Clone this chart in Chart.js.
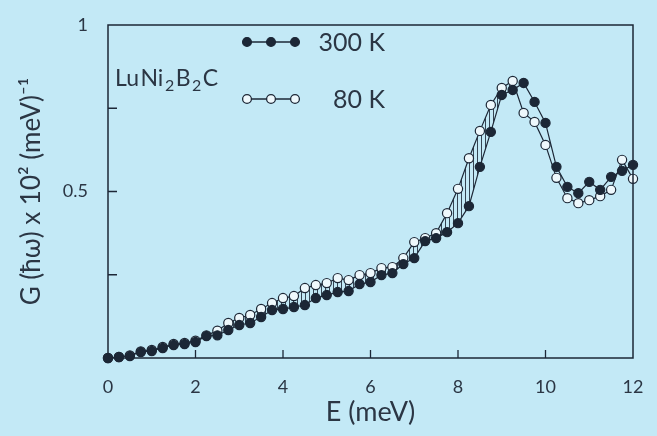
<!DOCTYPE html>
<html>
<head>
<meta charset="utf-8">
<script src="https://cdn.jsdelivr.net/npm/chart.js@4.4.1/dist/chart.umd.min.js"></script>
<style>
  html, body { margin: 0; padding: 0; background: #c3e9f6; }
  #wrap { width: 657px; height: 436px; position: relative; }
</style>
</head>
<body>
<div id="wrap"><canvas id="myChart" width="657" height="436"></canvas></div>
<script>
// E (meV)
const energy = [0, 0.25, 0.5, 0.75, 1, 1.25, 1.5, 1.75, 2, 2.25, 2.5, 2.75, 3, 3.25, 3.5, 3.75,
  4, 4.25, 4.5, 4.75, 5, 5.25, 5.5, 5.75, 6, 6.25, 6.5, 6.75, 7, 7.25, 7.5, 7.75,
  8, 8.25, 8.5, 8.75, 9, 9.25, 9.5, 9.75, 10, 10.25, 10.5, 10.75, 11, 11.25, 11.5, 11.75, 12];
// G(hw) x 10^2, 300 K (filled)
const g300 = [0.000, 0.003, 0.006, 0.018, 0.021, 0.030, 0.039, 0.042, 0.048, 0.066,
  0.068, 0.084, 0.099, 0.105, 0.123, 0.144, 0.147, 0.153, 0.159, 0.180,
  0.189, 0.198, 0.201, 0.222, 0.228, 0.249, 0.255, 0.282, 0.300, 0.351,
  0.360, 0.378, 0.405, 0.456, 0.574, 0.679, 0.790, 0.805, 0.826, 0.769,
  0.706, 0.574, 0.514, 0.495, 0.529, 0.505, 0.544, 0.562, 0.580];
// G(hw) x 10^2, 80 K (open)
const g80 = [0.000, 0.003, 0.008, 0.020, 0.024, 0.033, 0.042, 0.045, 0.052, 0.068,
  0.082, 0.105, 0.120, 0.129, 0.147, 0.165, 0.180, 0.186, 0.210, 0.219,
  0.225, 0.240, 0.234, 0.249, 0.255, 0.270, 0.273, 0.300, 0.348, 0.360,
  0.375, 0.435, 0.508, 0.600, 0.682, 0.760, 0.811, 0.832, 0.736, 0.709,
  0.640, 0.541, 0.480, 0.465, 0.474, 0.486, 0.505, 0.595, 0.538];
const yLabelled = [0.5, 1];
const xInnerTicks = [2, 4, 6, 8, 10];
const yInnerTicks = [0.25, 0.5, 0.75];
const seriesNames = ['300 K', '80 K'];

const ink = '#1c2736';
const textColor = '#2b3644';

// vertical hatch pattern for the area between the curves
const hatchCanvas = document.createElement('canvas');
hatchCanvas.width = 4; hatchCanvas.height = 4;
const hctx = hatchCanvas.getContext('2d');
hctx.strokeStyle = 'rgba(28,39,54,0.85)';
hctx.lineWidth = 1;
hctx.beginPath(); hctx.moveTo(1.5, 0); hctx.lineTo(1.5, 4); hctx.stroke();

const decorations = {
  id: 'decorations',
  beforeDraw(chart) {
    const c = chart.ctx;
    c.save();
    c.fillStyle = '#c3e9f6';
    c.fillRect(0, 0, chart.width, chart.height);
    c.restore();
  },
  afterDatasetsDraw(chart) {
    const c = chart.ctx;
    const a = chart.chartArea;
    const xs = chart.scales.x, ys = chart.scales.y;
    c.save();
    // frame
    c.strokeStyle = ink;
    c.lineWidth = 1.5;
    c.strokeRect(a.left, a.top, a.right - a.left, a.bottom - a.top);
    // inward ticks
    c.lineWidth = 1.3;
    c.beginPath();
    xInnerTicks.forEach(v => {
      const px = xs.getPixelForValue(v);
      c.moveTo(px, a.bottom); c.lineTo(px, a.bottom - 8);
    });
    yInnerTicks.forEach(v => {
      const py = ys.getPixelForValue(v);
      c.moveTo(a.left, py); c.lineTo(a.left + 9, py);
    });
    c.stroke();

    // legend
    const rows = [a.top + 17, a.top + 74];
    const mx = [a.left + 139, a.left + 163, a.left + 187];
    rows.forEach((ry, i) => {
      c.strokeStyle = ink; c.lineWidth = 1.3;
      c.beginPath(); c.moveTo(mx[0], ry); c.lineTo(mx[2], ry); c.stroke();
      mx.forEach(px => {
        c.beginPath(); c.arc(px, ry, 4.4, 0, Math.PI * 2);
        c.fillStyle = i === 0 ? ink : '#eef8fc';
        c.fill(); c.stroke();
      });
      c.fillStyle = textColor;
      c.font = '25px Lato';
      c.textAlign = 'right';
      c.textBaseline = 'middle';
      c.fillText(seriesNames[i], a.left + 277, ry + 1);
    });

    // compound label LuNi2B2C
    const parts = [['Lu', 0], ['Ni', 0], ['2', 1], ['B', 0], ['2', 1], ['C', 0]];
    let tx = a.left + 7;
    const base = a.top + 61;
    c.textAlign = 'left';
    c.textBaseline = 'alphabetic';
    parts.forEach(([t, sub]) => {
      c.font = sub ? '16px Lato' : '23px Lato';
      c.fillText(t, tx, sub ? base + 5 : base);
      tx += c.measureText(t).width + 1.5;
    });
    c.restore();
  }
};

const ctx = document.getElementById('myChart').getContext('2d');
new Chart(ctx, {
  type: 'line',
  data: {
    datasets: [{
      label: seriesNames[0],
      data: energy.map((e, i) => ({ x: e, y: g300[i] })),
      borderColor: ink,
      borderWidth: 1.2,
      pointRadius: 4.6,
      pointBorderWidth: 1.2,
      pointBackgroundColor: ink,
      pointBorderColor: ink,
      tension: 0,
      fill: false,
      clip: false
    }, {
      label: seriesNames[1],
      data: energy.map((e, i) => ({ x: e, y: g80[i] })),
      borderColor: ink,
      borderWidth: 1.2,
      pointRadius: 4.6,
      pointBorderWidth: 1.2,
      pointBackgroundColor: '#eef8fc',
      pointBorderColor: ink,
      tension: 0,
      fill: { target: 0, above: ctx.createPattern(hatchCanvas, 'repeat'), below: 'rgba(0,0,0,0)' },
      clip: false
    }]
  },
  options: {
    responsive: false,
    animation: false,
    layout: { padding: { left: 0, top: 25, right: 24, bottom: 0 } },
    plugins: { legend: { display: false }, tooltip: { enabled: false } },
    scales: {
      x: {
        type: 'linear', min: 0, max: 12,
        grid: { display: false },
        border: { display: false },
        ticks: { stepSize: 2, color: textColor, font: { family: 'Lato', size: 18 }, padding: 10 },
        title: { display: true, text: 'E (meV)', color: textColor, font: { family: 'Lato', size: 27 }, padding: { top: 0, bottom: 8 } },
        afterFit(scale) { scale.height = 78; }
      },
      y: {
        type: 'linear', min: 0, max: 1,
        grid: { display: false },
        border: { display: false },
        ticks: {
          stepSize: 0.25, color: textColor, font: { family: 'Lato', size: 18 }, padding: 12,
          callback: v => (yLabelled.includes(v) ? String(v) : '')
        },
        title: { display: true, text: 'G (ħω) x 10² (meV)⁻¹', color: textColor, font: { family: 'Lato', size: 26 }, padding: { top: 16, bottom: 0 } },
        afterFit(scale) { scale.width = 108; }
      }
    }
  },
  plugins: [decorations]
});
</script>
</body>
</html>
